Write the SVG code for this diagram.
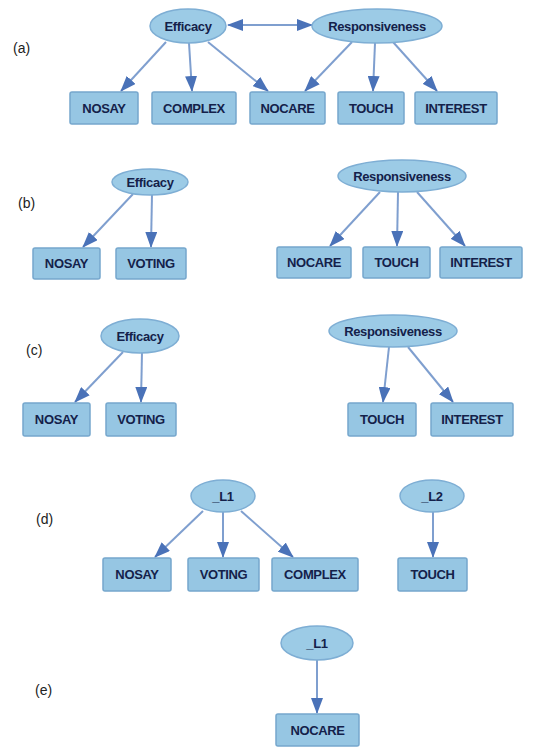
<svg xmlns="http://www.w3.org/2000/svg" width="551" height="747" viewBox="0 0 551 747">
<style>
.lat ellipse{fill:#9ccbe6;stroke:#7eaed4;stroke-width:1.5}
.obs rect{fill:#96c6e3;stroke:#76a7cd;stroke-width:1.5}
text.n{font-family:"Liberation Sans",Arial,sans-serif;font-weight:bold;font-size:13px;fill:#14214a;text-anchor:middle;letter-spacing:-0.35px}
text.lbl{font-family:"Liberation Sans",Arial,sans-serif;font-size:14px;fill:#222}
#edges line{stroke:#7f9fcf;stroke-width:2;marker-end:url(#ah)}
</style>
<defs>
<marker id="ah" markerWidth="8" markerHeight="6" refX="7.5" refY="3" orient="auto" markerUnits="strokeWidth">
<path d="M0,0 L8,3 L0,6 Z" fill="#4a72b8"/>
</marker>
<marker id="ahs" markerWidth="8" markerHeight="6" refX="0.5" refY="3" orient="auto" markerUnits="strokeWidth">
<path d="M8,0 L0,3 L8,6 Z" fill="#4a72b8"/>
</marker>
</defs>
<rect width="551" height="747" fill="#fff"/>
<text class="lbl" x="13" y="53">(a)</text>
<text class="lbl" x="18" y="208">(b)</text>
<text class="lbl" x="26" y="355">(c)</text>
<text class="lbl" x="36" y="524">(d)</text>
<text class="lbl" x="35" y="695">(e)</text>
<g id="edges">
<line x1="228" y1="25" x2="312" y2="25" style="marker-start:url(#ahs)"/>
<line x1="166" y1="42" x2="121" y2="91"/>
<line x1="189" y1="43" x2="192" y2="91"/>
<line x1="208" y1="42" x2="268" y2="91"/>
<line x1="352" y1="42" x2="305" y2="91"/>
<line x1="375" y1="43" x2="373" y2="91"/>
<line x1="393" y1="42" x2="437" y2="91"/>
<line x1="133" y1="194" x2="83" y2="247"/>
<line x1="152" y1="194" x2="151" y2="247"/>
<line x1="380" y1="192" x2="330" y2="246"/>
<line x1="398" y1="192" x2="397" y2="246"/>
<line x1="417" y1="192" x2="465" y2="246"/>
<line x1="123" y1="352" x2="75" y2="402"/>
<line x1="142" y1="352" x2="141" y2="402"/>
<line x1="389" y1="347" x2="383" y2="402"/>
<line x1="408" y1="347" x2="453" y2="402"/>
<line x1="203" y1="511" x2="155" y2="557"/>
<line x1="223" y1="512" x2="223" y2="557"/>
<line x1="241" y1="511" x2="293" y2="557"/>
<line x1="433" y1="512" x2="433" y2="557"/>
<line x1="317" y1="660" x2="317" y2="713"/>
</g>
<g id="a-efficacy" class="lat"><ellipse cx="188" cy="26" rx="38" ry="17"/><text class="n" x="188" y="30.5">Efficacy</text></g>
<g id="a-resp" class="lat"><ellipse cx="377" cy="26" rx="65" ry="17"/><text class="n" x="377" y="30.5">Responsiveness</text></g>
<g id="a-nosay" class="obs"><rect x="70" y="92" width="68" height="32" rx="2"/><text class="n" x="104" y="112.5">NOSAY</text></g>
<g id="a-complex" class="obs"><rect x="152" y="92" width="84" height="32" rx="2"/><text class="n" x="194" y="112.5">COMPLEX</text></g>
<g id="a-nocare" class="obs"><rect x="250" y="92" width="75" height="32" rx="2"/><text class="n" x="287.5" y="112.5">NOCARE</text></g>
<g id="a-touch" class="obs"><rect x="338" y="92" width="66" height="32" rx="2"/><text class="n" x="371" y="112.5">TOUCH</text></g>
<g id="a-interest" class="obs"><rect x="415" y="92" width="82" height="32" rx="2"/><text class="n" x="456" y="112.5">INTEREST</text></g>

<g id="b-efficacy" class="lat"><ellipse cx="150" cy="182" rx="38" ry="13"/><text class="n" x="150" y="186.5">Efficacy</text></g>
<g id="b-resp" class="lat"><ellipse cx="402" cy="176" rx="64" ry="16"/><text class="n" x="402" y="180.5">Responsiveness</text></g>
<g id="b-nosay" class="obs"><rect x="33" y="248" width="67" height="31" rx="2"/><text class="n" x="66.5" y="268">NOSAY</text></g>
<g id="b-voting" class="obs"><rect x="116" y="248" width="70" height="31" rx="2"/><text class="n" x="151" y="268">VOTING</text></g>
<g id="b-nocare" class="obs"><rect x="277" y="247" width="74" height="31" rx="2"/><text class="n" x="314" y="267">NOCARE</text></g>
<g id="b-touch" class="obs"><rect x="363" y="247" width="67" height="31" rx="2"/><text class="n" x="396.5" y="267">TOUCH</text></g>
<g id="b-interest" class="obs"><rect x="440" y="247" width="82" height="31" rx="2"/><text class="n" x="481" y="267">INTEREST</text></g>

<g id="c-efficacy" class="lat"><ellipse cx="140" cy="336" rx="39" ry="17"/><text class="n" x="140" y="340.5">Efficacy</text></g>
<g id="c-resp" class="lat"><ellipse cx="393" cy="331" rx="64" ry="16"/><text class="n" x="393" y="335.5">Responsiveness</text></g>
<g id="c-nosay" class="obs"><rect x="23" y="403" width="67" height="33" rx="2"/><text class="n" x="56.5" y="424">NOSAY</text></g>
<g id="c-voting" class="obs"><rect x="106" y="403" width="70" height="33" rx="2"/><text class="n" x="141" y="424">VOTING</text></g>
<g id="c-touch" class="obs"><rect x="348" y="403" width="68" height="33" rx="2"/><text class="n" x="382" y="424">TOUCH</text></g>
<g id="c-interest" class="obs"><rect x="431" y="403" width="82" height="33" rx="2"/><text class="n" x="472" y="424">INTEREST</text></g>

<g id="d-l1" class="lat"><ellipse cx="223" cy="496" rx="32" ry="16"/><text class="n" x="223" y="500.5">_L1</text></g>
<g id="d-l2" class="lat"><ellipse cx="432" cy="496" rx="32" ry="16"/><text class="n" x="432" y="500.5">_L2</text></g>
<g id="d-nosay" class="obs"><rect x="103" y="558" width="68" height="33" rx="2"/><text class="n" x="137" y="579">NOSAY</text></g>
<g id="d-voting" class="obs"><rect x="188" y="558" width="71" height="33" rx="2"/><text class="n" x="223.5" y="579">VOTING</text></g>
<g id="d-complex" class="obs"><rect x="272" y="558" width="86" height="33" rx="2"/><text class="n" x="315" y="579">COMPLEX</text></g>
<g id="d-touch" class="obs"><rect x="398" y="558" width="69" height="33" rx="2"/><text class="n" x="432.5" y="579">TOUCH</text></g>

<g id="e-l1" class="lat"><ellipse cx="317" cy="643" rx="36" ry="17"/><text class="n" x="317" y="647.5">_L1</text></g>
<g id="e-nocare" class="obs"><rect x="276" y="714" width="83" height="32" rx="2"/><text class="n" x="317.5" y="735">NOCARE</text></g>
</svg>
